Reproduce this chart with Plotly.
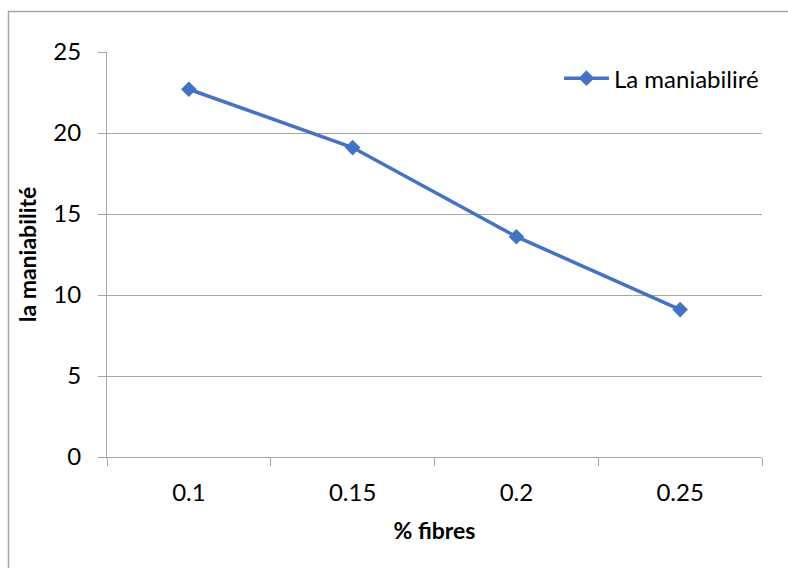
import plotly.graph_objects as go

# Workability of the mix versus fibre content
fibres = ["0.1", "0.15", "0.2", "0.25"]
maniabilite = [22.7, 19.1, 13.6, 9.1]
y_ticks = [0, 5, 10, 15, 20, 25]

FONT = "Lato"
BLUE = "#4472C4"
GREY = "#a6a6a6"

fig = go.Figure()
fig.add_trace(go.Scatter(
    x=fibres,
    y=maniabilite,
    mode="lines+markers",
    name="La maniabiliré",
    line=dict(color=BLUE, width=3.5),
    marker=dict(symbol="diamond", size=12, color=BLUE),
))

fig.update_layout(
    width=788,
    height=568,
    margin=dict(l=107, r=26, t=52, b=111),
    paper_bgcolor="white",
    plot_bgcolor="white",
    font=dict(family=FONT, size=24, color="#000000"),
    showlegend=True,
    legend=dict(
        x=0.69, y=0.99, xanchor="left", yanchor="top",
        bgcolor="rgba(0,0,0,0)", borderwidth=0,
        font=dict(family=FONT, size=24, color="#000000"),
        itemwidth=45,
    ),
    xaxis=dict(
        type="category",
        categoryorder="array",
        categoryarray=fibres,
        range=[-0.5, len(fibres) - 0.5],
        tickson="boundaries",
        ticks="outside",
        ticklen=8,
        tickcolor=GREY,
        showline=True,
        linecolor=GREY,
        linewidth=1,
        showgrid=False,
        zeroline=False,
        ticklabelstandoff=14,
        title=dict(text="<b>% fibres</b>", font=dict(family=FONT, size=23), standoff=18),
    ),
    yaxis=dict(
        range=[0, 25],
        tickvals=y_ticks,
        ticks="outside",
        ticklen=8,
        tickcolor=GREY,
        showline=True,
        linecolor=GREY,
        linewidth=1,
        showgrid=True,
        gridcolor=GREY,
        gridwidth=1,
        zeroline=False,
        ticklabelstandoff=12,
        title=dict(text="<b>la maniabilité</b>", font=dict(family=FONT, size=23), standoff=10),
    ),
    shapes=[
        dict(
            type="rect", xref="paper", yref="paper",
            x0=-0.1504, x1=1.3, y0=-0.4, y1=1.1,
            line=dict(color=GREY, width=1.5),
            fillcolor="rgba(0,0,0,0)",
            layer="below",
        )
    ],
)

fig.write_html("out.html")
